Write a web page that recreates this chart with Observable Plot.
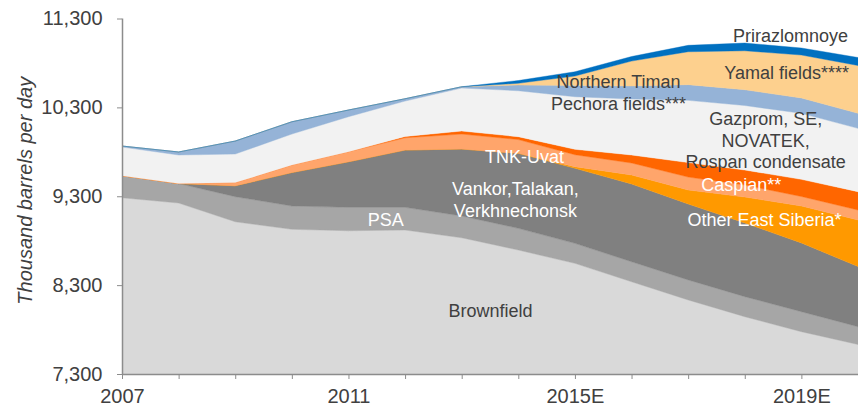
<!DOCTYPE html>
<html>
<head>
<meta charset="utf-8">
<script src="https://cdn.jsdelivr.net/npm/d3@7"></script>
<script src="https://cdn.jsdelivr.net/npm/@observablehq/plot@0.6"></script>
<style>
  html, body { margin: 0; padding: 0; background: #fff; }
  #chart { width: 858px; height: 407px; }
</style>
</head>
<body>
<div id="chart"></div>
<script>
// ---- data (thousand barrels per day) ----
const years = [2007, 2008, 2009, 2010, 2011, 2012, 2013, 2014, 2015, 2016, 2017, 2018, 2019, 2020];

const brownfield       = [9283, 9224, 9013, 8928, 8912, 8920, 8833, 8695, 8545, 8338, 8133, 7945, 7776, 7632];
const psa              = [248, 219, 282, 262, 263, 255, 245, 244, 225, 225, 225, 225, 225, 200];
const vankor           = [0, 0, 123, 377, 513, 645, 753, 844, 844, 875, 855, 829, 773, 677];
const otherEastSiberia = [0, 0, 0, 0, 0, 0, 0, 0, 18, 101, 157, 292, 416, 524];
const tnkUvat          = [0, 0, 36, 84, 113, 138, 169, 155, 135, 135, 146, 135, 107, 112];
const caspian          = [0, 0, 0, 0, 0, 14, 34, 32, 61, 90, 163, 169, 193, 206];
const gazpromNovatek   = [323, 321, 321, 349, 394, 399, 484, 517, 592, 630, 700, 726, 743, 713];
const timanPechora     = [11, 34, 146, 138, 75, 26, 14, 64, 126, 146, 176, 177, 172, 169];
const yamal            = [0, 0, 0, 0, 0, 0, 0, 20, 107, 281, 371, 439, 484, 538];
const prirazlomnoye    = [0, 0, 0, 0, 0, 0, 0, 31, 48, 51, 72, 87, 79, 90];

const seriesNames  = ["Brownfield", "PSA", "Vankor", "Other East Siberia", "TNK-Uvat", "Caspian",
                      "Gazprom", "Northern Timan Pechora", "Yamal", "Prirazlomnoye"];
const seriesValues = [brownfield, psa, vankor, otherEastSiberia, tnkUvat, caspian,
                      gazpromNovatek, timanPechora, yamal, prirazlomnoye];
const seriesColors = ["#d9d9d9", "#a6a6a6", "#808080", "#ff9900", "#ffa56b", "#ff6600",
                      "#f2f2f2", "#95b3d7", "#fdd08e", "#0070c0"];

const yTicks = [7300, 8300, 9300, 10300, 11300];
const xLabelYears = [2007, 2011, 2015, 2019];
const xLabelTexts = ["2007", "2011", "2015E", "2019E"];

// labels placed in data space (year, value)
const labelTexts  = ["PSA", "Brownfield", "Vankor,Talakan,\nVerkhnechonsk", "TNK-Uvat",
                     "Northern Timan\nPechora fields***", "Prirazlomnoye", "Yamal fields****",
                     "Gazprom, SE,\nNOVATEK,\nRospan condensate", "Caspian**", "Other East Siberia*"];
const labelYears  = [2011.65, 2013.5, 2013.94, 2014.1, 2015.76, 2018.8, 2018.73, 2018.36, 2017.93, 2018.34];
const labelValues = [9044, 8020, 9272, 9752, 10478, 11114, 10697, 9938, 9443, 9044];
const labelColors = ["#ffffff", "#404040", "#ffffff", "#ffffff", "#404040", "#404040", "#404040",
                     "#404040", "#ffffff", "#ffffff"];

// ---- build tables ----
const rows = [];
seriesNames.forEach((s, i) => {
  years.forEach((yr, j) => rows.push({series: s, year: yr, value: seriesValues[i][j]}));
});
const labels = labelTexts.map((t, i) => ({text: t, year: labelYears[i], value: labelValues[i], color: labelColors[i]}));
const xLabelMap = new Map(xLabelYears.map((y, i) => [y, xLabelTexts[i]]));

const chart = Plot.plot({
  width: 858,
  height: 407,
  marginLeft: 122,
  marginRight: 0,
  marginTop: 18.5,
  marginBottom: 33,
  style: {fontFamily: "'Liberation Sans', Arial, sans-serif", fontSize: "20px", background: "#fff", color: "#404040"},
  x: {domain: [2007, 2020]},
  y: {domain: [7300, 11300]},
  color: {domain: seriesNames, range: seriesColors},
  marks: [
    Plot.areaY(rows, {x: "year", y: "value", z: "series", fill: "series", curve: "linear", clip: true,
                      stroke: "series", strokeWidth: 0.4}),
    Plot.ruleY([7300], {stroke: "#8c8c8c", strokeWidth: 1.5}),
    Plot.ruleX([2007], {stroke: "#8c8c8c", strokeWidth: 1.5}),
    Plot.axisY({ticks: yTicks, tickFormat: d3.format(","), tickSize: 5, tickPadding: 15,
                stroke: "#8c8c8c", fill: "#404040", fontSize: 20, label: null}),
    Plot.axisX({ticks: years, tickFormat: d => xLabelMap.get(d) ?? "", tickSize: 5, tickPadding: 9,
                stroke: "#8c8c8c", fill: "#404040", fontSize: 20, label: null}),
    Plot.text(["Thousand barrels per day"], {frameAnchor: "left", textAnchor: "middle", dx: -97, dy: -6, rotate: -90,
                fontStyle: "italic", fontSize: 20, fill: "#404040"}),
    Plot.text(labels, {x: "year", y: "value", text: "text", fill: "color", fontSize: 18, lineHeight: 1.19})
  ]
});
document.getElementById("chart").appendChild(chart);
</script>
</body>
</html>
